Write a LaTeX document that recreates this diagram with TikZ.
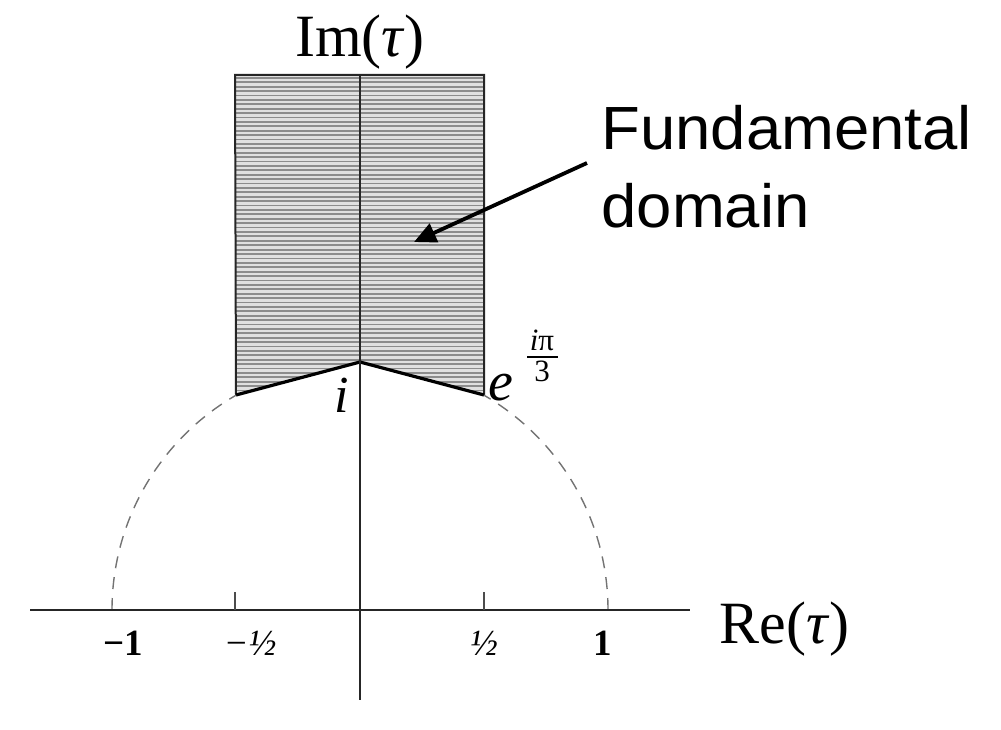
\documentclass[tikz,border=0pt]{standalone}
\usepackage{fontspec}
\setmainfont{Liberation Serif}
\newfontfamily\sansf[FakeStretch=1.04]{Liberation Sans}
\usetikzlibrary{arrows.meta}
\begin{document}
\begin{tikzpicture}[x=1pt,y=1pt,
  axisline/.style={line width=2pt,draw=black!85},
  hatchline/.style={line width=1.8pt,draw=black!45},
  border/.style={line width=2.6pt,draw=black!85},
  dashedarc/.style={line width=1.4pt,draw=black!55,dash pattern=on 12pt off 9pt},
  ticklab/.style={anchor=base,font=\fontsize{37}{40}\selectfont},
  biglab/.style={font=\fontsize{60}{70}\selectfont},
  sidelab/.style={anchor=base west,font=\sansf\fontsize{61}{72}\selectfont},
  pointer/.style={line width=3.8pt,-{Triangle[length=22pt,width=20pt]}}]
\useasboundingbox (0,0) rectangle (1001,-730);
% key points
\coordinate (O) at (360,-610);
\coordinate (TL) at (235,-75);
\coordinate (TR) at (484,-75);
\coordinate (BL) at (236,-395);
\coordinate (BR) at (484,-395);
\coordinate (I) at (360,-362);
% hatched domain
\begin{scope}
  \clip (TL) -- (TR) -- (BR) -- (I) -- (BL) -- cycle;
  \fill[black!12] (230,-70) rectangle (490,-400);
  \foreach \y in {78,82.4,...,400} \draw[hatchline] (230,-\y) -- (490,-\y);
\end{scope}
\draw[border,line width=2pt] (BL) -- (TL) -- (TR) -- (BR);
\draw[border,line width=3.2pt,draw=black,line join=round] (BL) -- (I) -- (BR);
% dashed unit circle parts
\draw[dashedarc] (112,-610) arc[start angle=180,end angle=120,radius=248];
\draw[dashedarc] (608,-610) arc[start angle=0,end angle=60,radius=248];
% axes
\draw[axisline] (30,-610) -- (690,-610);
\draw[axisline] (360,-75) -- (360,-700);
% ticks
\draw[line width=1.3pt,black!70] (235,-610) -- (235,-592);
\draw[line width=1.3pt,black!70] (484,-610) -- (484,-592);
% tick labels
\node[ticklab] (m1) at (123,-655) {\textbf{−1}};
\node[ticklab] (mh) at (250,-655) {\textit{−½}};
\node[ticklab] (ph) at (484,-655) {\textit{½}};
\node[ticklab] (p1) at (603,-655) {\textbf{1}};
% axis labels
\node[biglab,anchor=base] (im) at (360,-57) {Im(\textit{τ})};
\node[biglab,anchor=base west] (re) at (716,-643) {Re(\textit{τ})};
% point labels
\node[anchor=base,font=\fontsize{52}{56}\selectfont\itshape] (ilab) at (342,-412) {i};
\node[anchor=base,font=\fontsize{56}{60}\selectfont\itshape] (elab) at (501,-400) {e};
\node[anchor=base,font=\fontsize{31}{34}\selectfont] (fnum) at (542,-350) {\textit{i}π};
\draw[line width=1.6pt] (527,-357) -- (558,-357);
\node[anchor=base,font=\fontsize{31}{34}\selectfont] (fden) at (542,-381) {3};
% annotation
\node[sidelab] (fd1) at (598,-150) {Fundamental};
\node[sidelab] (fd2) at (598,-227) {domain};
\coordinate (astart) at (587,-163);
\coordinate (atip) at (414,-242);
\draw[pointer] (astart) -- (atip);
\end{tikzpicture}
\end{document}
